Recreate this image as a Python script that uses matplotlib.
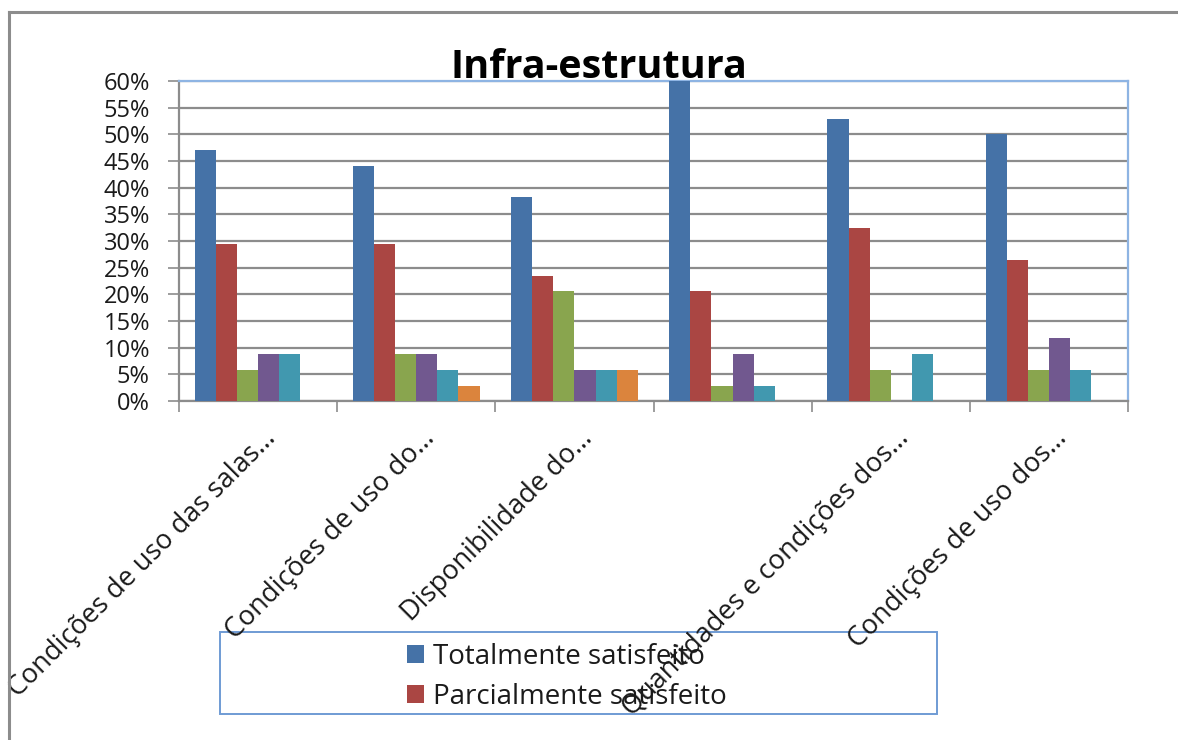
import matplotlib
matplotlib.use("Agg")
import matplotlib.pyplot as plt
import numpy as np
from matplotlib.patches import Rectangle, Patch
from matplotlib.lines import Line2D
import matplotlib.transforms as mtransforms

plt.rcParams['font.family'] = ['Open Sans', 'DejaVu Sans']

title = "Infra-estrutura"
categories = [
    "Condições de uso das salas…",
    "Condições de uso do…",
    "Disponibilidade do…",
    "",
    "Quantidades e condições dos…",
    "Condições de uso dos…",
]
series_names = [
    "Totalmente satisfeito",
    "Parcialmente satisfeito",
    "Indiferente",
    "Parcialmente insatisfeito",
    "Totalmente insatisfeito",
    "Não se aplica",
]
totalmente_satisfeito = [47.1, 44.1, 38.2, 64.7, 52.9, 50.0]
parcialmente_satisfeito = [29.4, 29.4, 23.5, 20.6, 32.4, 26.5]
indiferente = [5.9, 8.8, 20.6, 2.9, 5.9, 5.9]
parcialmente_insatisfeito = [8.8, 8.8, 5.9, 8.8, 0.0, 11.8]
totalmente_insatisfeito = [8.8, 5.9, 5.9, 2.9, 8.8, 5.9]
nao_se_aplica = [0.0, 2.9, 5.9, 0.0, 0.0, 0.0]
yticks = [0, 5, 10, 15, 20, 25, 30, 35, 40, 45, 50, 55, 60]

series_values = [totalmente_satisfeito, parcialmente_satisfeito, indiferente,
                 parcialmente_insatisfeito, totalmente_insatisfeito, nao_se_aplica]
colors = ["#4572A7", "#AA4643", "#89A54E", "#71588F", "#4198AF", "#DB843D"]

W, H = 1178, 740
fig = plt.figure(figsize=(W / 100, H / 100), dpi=100)
fig.patch.set_facecolor("white")

# outer chart frame (left and top edges visible)
fig.add_artist(Line2D([9 / W, 9 / W], [0, 1 - 12 / H], transform=fig.transFigure,
                      color="#8C8C8C", lw=2.2))
fig.add_artist(Line2D([9 / W, 1], [1 - 12 / H, 1 - 12 / H], transform=fig.transFigure,
                      color="#8C8C8C", lw=2.2))

L, R, T, B = 179, 1128, 81, 401
ax = fig.add_axes([L / W, 1 - B / H, (R - L) / W, (B - T) / H])

n_series = len(series_values)
x = np.arange(len(categories))
bw = 1.0 / (n_series + 1.5)
for j, (vals, c, name) in enumerate(zip(series_values, colors, series_names)):
    ax.bar(x + (j - (n_series - 1) / 2) * bw, vals, width=bw, color=c,
           edgecolor="none", label=name, zorder=3)

ax.set_xlim(-0.5, len(categories) - 0.5)
ax.set_ylim(0, 60)
ax.set_yticks(yticks)
ax.set_yticklabels([f"{v}%" for v in yticks], fontsize=17, color="#1a1a1a")
ax.yaxis.grid(True, color="#8C8C8C", lw=1.6, zorder=0)
ax.set_axisbelow(True)
ax.tick_params(axis="y", length=8, width=1.2, color="#8C8C8C", pad=13)

ax.set_xticks(x)
ax.set_xticks(np.arange(-0.5, len(categories), 1.0), minor=True)
ax.tick_params(axis="x", which="major", length=0, pad=24)
ax.tick_params(axis="x", which="minor", length=8, width=1.2, color="#8C8C8C")
ax.set_xticklabels(categories, rotation=45, ha="right", va="center",
                   rotation_mode="anchor", fontsize=19.5, color="#1a1a1a")
offset = mtransforms.ScaledTranslation(14 / 100, 0, fig.dpi_scale_trans)
for lab in ax.get_xticklabels():
    lab.set_transform(lab.get_transform() + offset)
    lab.set_zorder(10)

for s in ["left", "bottom"]:
    ax.spines[s].set_color("#8C8C8C")
    ax.spines[s].set_linewidth(1.6)
for s in ["top", "right"]:
    ax.spines[s].set_color("#8EB4E3")
    ax.spines[s].set_linewidth(1.6)

fig.text(599 / W, 1 - 78 / H, title, ha="center", va="baseline",
         fontsize=28.5, fontweight="bold", color="black")

# legend box (too small in original: only first two entries visible)
fig.add_artist(Rectangle((220 / W, 1 - 714 / H), (937 - 220) / W, (714 - 632) / H,
                         transform=fig.transFigure, facecolor="none",
                         edgecolor="#6F9BD4", lw=1.4, zorder=-1))
handles = [Patch(facecolor=colors[k], label=series_names[k]) for k in range(2)]
leg = fig.legend(handles=handles, loc="center left",
                 bbox_to_anchor=(407 / W, 1 - 677 / H), frameon=False,
                 fontsize=20, handlelength=0.62, handleheight=0.62,
                 handletextpad=0.3, labelspacing=0.42, borderpad=0,
                 borderaxespad=0)
leg.set_zorder(-1)
for t in leg.get_texts():
    t.set_color("#1a1a1a")

fig.savefig("out.png", dpi=100)
